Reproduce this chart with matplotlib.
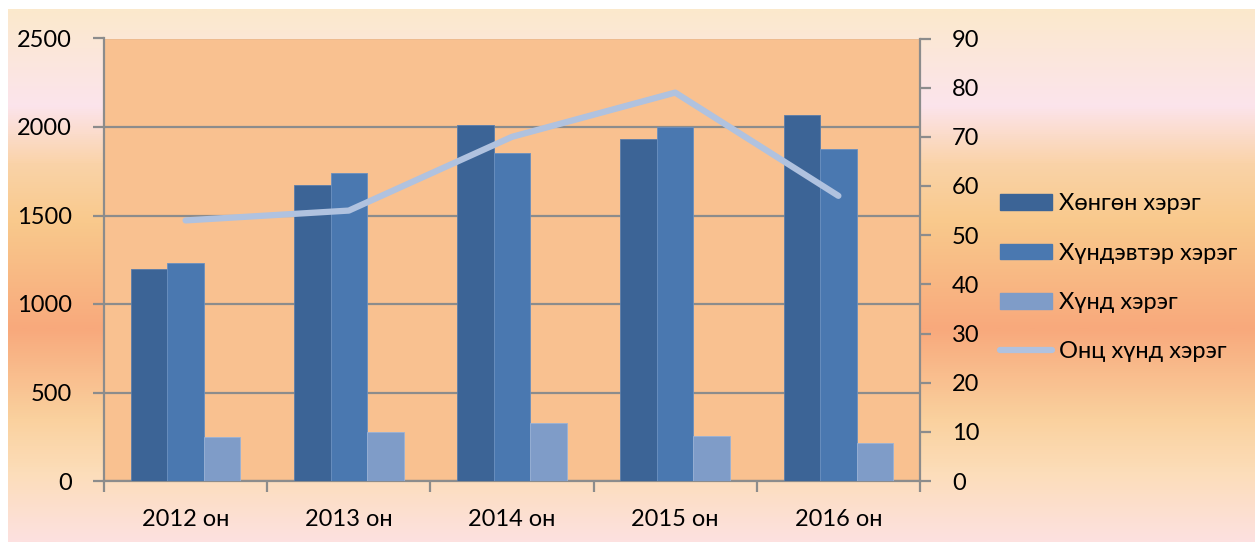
import matplotlib
matplotlib.use('Agg')
import matplotlib.pyplot as plt
import numpy as np
from matplotlib.colors import LinearSegmentedColormap
from matplotlib.lines import Line2D
from matplotlib.patches import Patch

plt.rcParams['font.family'] = ['Lato', 'Open Sans', 'DejaVu Sans']

# data
years = ['2012 он', '2013 он', '2014 он', '2015 он', '2016 он']
light_crime = [1200, 1675, 2010, 1935, 2065]      # Хөнгөн хэрэг
medium_crime = [1230, 1740, 1855, 2000, 1875]     # Хүндэвтэр хэрэг
serious_crime = [250, 275, 325, 255, 215]         # Хүнд хэрэг
very_serious = [53, 55, 70, 79, 58]               # Онц хүнд хэрэг (right axis)
left_ticks = [0, 500, 1000, 1500, 2000, 2500]
right_ticks = list(range(0, 91, 10))

c_dark = '#3C6496'
c_mid = '#4A78B0'
c_light = '#7F9CC8'
c_line = '#B0C2DF'
c_grid = '#8C8C8C'
fs = 17

fig = plt.figure(figsize=(12.55, 5.42), dpi=100)
fig.patch.set_facecolor('white')

# gradient background
bg = fig.add_axes([8 / 1255, 0, 1 - 8 / 1255, 1 - 9 / 542], zorder=-10)
stops = [(0.0, '#FBE9CC'), (0.18, '#FCE4EC'), (0.29, '#FAD3A8'), (0.40, '#F9C98C'),
         (0.60, '#F8A97C'), (0.77, '#FAD19E'), (0.87, '#FCDDB9'), (1.0, '#FDE1E0')]
cmap = LinearSegmentedColormap.from_list('bg', stops)
grad = np.linspace(0, 1, 512).reshape(-1, 1)
bg.imshow(grad, aspect='auto', cmap=cmap, extent=[0, 1, 1, 0])
bg.set_axis_off()

ax = fig.add_axes([104 / 1255, 1 - 481 / 542, (920 - 104) / 1255, (481 - 38.5) / 542])
ax.set_facecolor('#F9C190')

x = np.arange(len(years))
w = 0.224
ax.bar(x - w, light_crime, w, color=c_dark, zorder=3, edgecolor='#5A7DAA', linewidth=0.6)
ax.bar(x, medium_crime, w, color=c_mid, zorder=3, edgecolor='#6A90C0', linewidth=0.6)
ax.bar(x + w, serious_crime, w, color=c_light, zorder=3, edgecolor='#9AB2D6', linewidth=0.6)

ax.set_xlim(-0.5, len(years) - 0.5)
ax.set_ylim(0, 2500)
ax.set_yticks(left_ticks)
ax.yaxis.grid(True, color=c_grid, linewidth=1.6, zorder=1)
ax.set_axisbelow(True)
ax.set_xticks(np.arange(-0.5, len(years), 1))
ax.set_xticklabels([])
ax.set_xticks(x, minor=True)
ax.set_xticklabels(years, minor=True)
ax.tick_params(axis='x', which='major', length=8, width=1.6, color=c_grid, direction='out')
ax.tick_params(axis='x', which='minor', length=0, pad=20, labelsize=fs)
ax.tick_params(axis='y', length=8, width=1.6, color=c_grid, pad=15, labelsize=fs)
for s in ['top', 'right']:
    ax.spines[s].set_visible(False)
for s in ['left', 'bottom']:
    ax.spines[s].set_color(c_grid)
    ax.spines[s].set_linewidth(1.6)

ax2 = ax.twinx()
ax2.plot(x, very_serious, color=c_line, linewidth=4.5, solid_capstyle='round',
         solid_joinstyle='round', zorder=5)
ax2.set_ylim(0, 90)
ax2.set_yticks(right_ticks)
ax2.tick_params(axis='y', length=8, width=1.6, color=c_grid, pad=15, labelsize=fs)
for s in ['top', 'left', 'bottom']:
    ax2.spines[s].set_visible(False)
ax2.spines['right'].set_color(c_grid)
ax2.spines['right'].set_linewidth(1.6)

handles = [Patch(color=c_dark), Patch(color=c_mid), Patch(color=c_light),
           Line2D([0], [0], color=c_line, linewidth=4.5, solid_capstyle='round')]
labels = ['Хөнгөн хэрэг', 'Хүндэвтэр хэрэг', 'Хүнд хэрэг', 'Онц хүнд хэрэг']
fig.legend(handles, labels, loc='center left', bbox_to_anchor=(1000 / 1255, 1 - 278 / 542),
           frameon=False, fontsize=fs, handlelength=2.2, handleheight=0.65,
           handletextpad=0.3, labelspacing=1.2, borderpad=0, borderaxespad=0)

fig.savefig('out.png', dpi=100)
